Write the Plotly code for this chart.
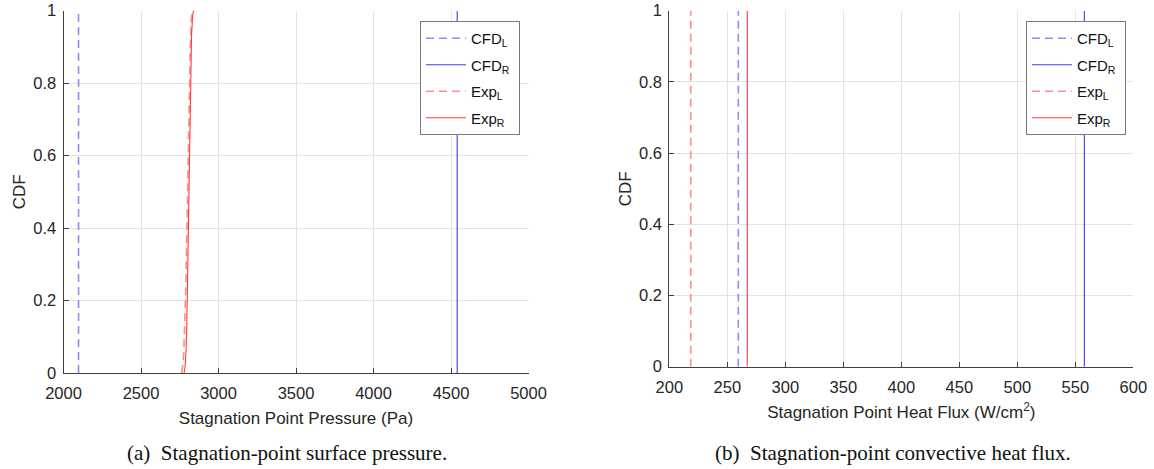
import plotly.graph_objects as go

W, H = 1154, 469

# ---------------- data ----------------
# Panel (a): stagnation point pressure (Pa)
p_cfd_L = 2097
p_cfd_R = 4540
p_expL_x = [2762, 2770, 2776, 2782, 2788, 2794, 2800, 2806, 2812, 2818, 2824, 2830, 2840]
p_expL_cdf = [0.0, 0.02, 0.06, 0.12, 0.22, 0.35, 0.50, 0.65, 0.80, 0.90, 0.97, 1.0, 1.0]
p_expR_x = [2778, 2785, 2790, 2796, 2802, 2808, 2814, 2820, 2826, 2832, 2838, 2850]
p_expR_cdf = [0.0, 0.02, 0.06, 0.14, 0.30, 0.48, 0.65, 0.82, 0.93, 0.98, 1.0, 1.0]

# Panel (b): stagnation point heat flux (W/cm^2)
q_cfd_L = 259.5
q_cfd_R = 557.8
q_exp_L = 218.5
q_exp_R = 267.2

cdf_span = [0, 1]
series_names = ["CFD<sub>L</sub>\u00a0", "CFD<sub>R</sub>\u00a0", "Exp<sub>L</sub>\u00a0", "Exp<sub>R</sub>\u00a0"]
x_ticks_a = [2000, 2500, 3000, 3500, 4000, 4500, 5000]
x_ticks_b = [200, 250, 300, 350, 400, 450, 500, 550, 600]
y_ticks = [0, 0.2, 0.4, 0.6, 0.8, 1]
y_ticklabels = ["0", "0.2", "0.4", "0.6", "0.8", "1"]

# ---------------- styles ----------------
FONT = "Liberation Sans, Arial, sans-serif"
SERIF = "Liberation Serif, Times New Roman, serif"
styles = [
    dict(color="#8c8cff", width=1.6, dash="8px,5px"),
    dict(color="#3a3aff", width=1.1, dash="solid"),
    dict(color="#ff8c8c", width=1.6, dash="8px,5px"),
    dict(color="#ff3a3a", width=1.1, dash="solid"),
]

fig = go.Figure()

# panel (a)
a_data = [
    ([p_cfd_L, p_cfd_L], cdf_span),
    ([p_cfd_R, p_cfd_R], cdf_span),
    (p_expL_x, p_expL_cdf),
    (p_expR_x, p_expR_cdf),
]
for i, ((xs, ys), nm, st) in enumerate(zip(a_data, series_names, styles)):
    fig.add_trace(go.Scatter(x=xs, y=ys, mode="lines", name=nm, line=st,
                             legendgroup=f"a{i}", xaxis="x", yaxis="y", legend="legend"))

# panel (b)
b_vals = [q_cfd_L, q_cfd_R, q_exp_L, q_exp_R]
for i, (v, nm, st) in enumerate(zip(b_vals, series_names, styles)):
    fig.add_trace(go.Scatter(x=[v, v], y=cdf_span, mode="lines", name=nm, line=st,
                             legendgroup=f"b{i}", xaxis="x2", yaxis="y2", legend="legend2"))

def px_x(p):
    return p / W

def px_y(p):
    return 1 - p / H

AX_COL = "#404040"
GRID = "#e3e3e3"
TXT = "#262626"

common_x = dict(showline=True, linecolor=AX_COL, linewidth=1, showgrid=True, gridcolor=GRID,
                gridwidth=1, ticks="inside", ticklen=5, tickcolor=AX_COL, zeroline=False,
                automargin=False, ticklabelstandoff=5,
                tickfont=dict(family=FONT, size=16.5, color=TXT),
                title_font=dict(family=FONT, size=17, color=TXT), mirror=False)
common_y = dict(showline=True, linecolor=AX_COL, linewidth=1, showgrid=True, gridcolor=GRID,
                gridwidth=1, ticks="inside", ticklen=5, tickcolor=AX_COL, zeroline=False,
                automargin=False, ticklabelstandoff=3,
                tickfont=dict(family=FONT, size=16.5, color=TXT),
                title_font=dict(family=FONT, size=17, color=TXT),
                range=[0, 1], tickvals=y_ticks, ticktext=y_ticklabels)

legend_common = dict(bgcolor="white", bordercolor="#7a7a7a", borderwidth=1,
                     font=dict(family=FONT, size=15, color="#111"),
                     xanchor="left", yanchor="top", tracegroupgap=4, itemwidth=40)

fig.update_layout(
    width=W, height=H,
    margin=dict(l=0, r=0, t=0, b=0, autoexpand=False),
    paper_bgcolor="white", plot_bgcolor="white",
    showlegend=True,
    xaxis=dict(common_x, domain=[px_x(63.5), px_x(528.5)], range=[2000, 5000],
               tickvals=x_ticks_a, anchor="y",
               title=dict(text="Stagnation Point Pressure (Pa)", standoff=11)),
    yaxis=dict(common_y, domain=[px_y(373), px_y(10.7)], anchor="x",
               title=dict(text="CDF", standoff=3)),
    xaxis2=dict(common_x, domain=[px_x(669.3), px_x(1133.3)], range=[200, 600],
                tickvals=x_ticks_b, anchor="y2",
                title=dict(text="Stagnation Point Heat Flux (W/cm<sup>2</sup>)", standoff=11)),
    yaxis2=dict(common_y, domain=[px_y(366.7), px_y(10.7)], anchor="x2",
                title=dict(text="CDF", standoff=3)),
    legend=dict(legend_common, x=px_x(420), y=px_y(21)),
    legend2=dict(legend_common, x=px_x(1026), y=px_y(21)),
)

fig.add_annotation(text="(a)  Stagnation-point surface pressure.", xref="paper", yref="paper",
                   x=px_x(125), y=px_y(453), xanchor="left", yanchor="middle", showarrow=False,
                   font=dict(family=SERIF, size=21, color="#111"))
fig.add_annotation(text="(b)  Stagnation-point convective heat flux.", xref="paper", yref="paper",
                   x=px_x(713), y=px_y(453), xanchor="left", yanchor="middle", showarrow=False,
                   font=dict(family=SERIF, size=21, color="#111"))

fig.write_html("out.html")
